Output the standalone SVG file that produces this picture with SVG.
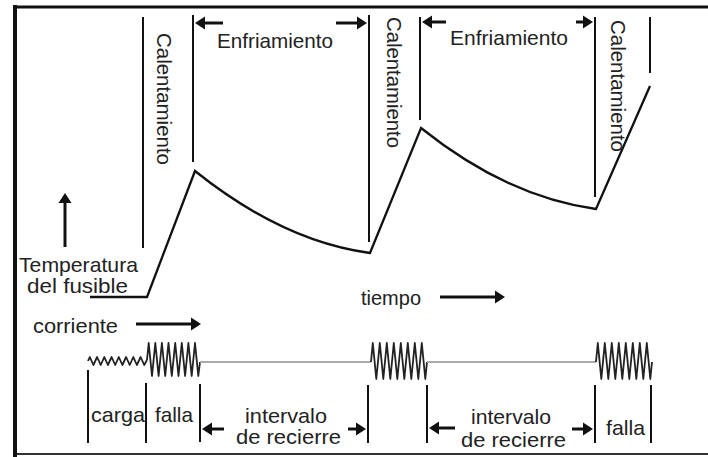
<svg xmlns="http://www.w3.org/2000/svg" width="708" height="457" viewBox="0 0 708 457">
<defs>
<marker id="ah" markerUnits="userSpaceOnUse" markerWidth="10" markerHeight="13" refX="0" refY="6.5" orient="auto" overflow="visible">
<path d="M0,0 L10,6.5 L0,13 z" fill="#111"/>
</marker>
<style>
.t{font-family:"Liberation Sans",Arial,sans-serif;font-size:21px;fill:#222}
.ln{stroke:#111;stroke-width:2;fill:none}
.ar{stroke:#111;stroke-width:3;fill:none;marker-end:url(#ah)}
.wv{stroke:#222;stroke-width:1.8;fill:none;stroke-linejoin:round}
.gr{stroke:#aaa;stroke-width:2;fill:none}
</style>
</defs>
<rect width="708" height="457" fill="#fff"/>
<g id="frame">
<line x1="13" y1="7" x2="708" y2="7" stroke="#111" stroke-width="3"/>
<line x1="13" y1="454" x2="708" y2="454" stroke="#333" stroke-width="2"/>
<line x1="15" y1="5" x2="15" y2="457" stroke="#111" stroke-width="4"/>
</g>
<g id="connectors">
<line class="ln" x1="143" y1="17" x2="143" y2="248"/>
<line class="ln" x1="193" y1="15" x2="193" y2="162"/>
<line class="ln" x1="369" y1="15" x2="369" y2="242" stroke-width="2.5"/>
<line class="ln" x1="420" y1="17" x2="420" y2="120" stroke="#555"/>
<line class="ln" x1="595" y1="17" x2="595" y2="197" stroke-width="2.5"/>
<line class="ln" x1="650" y1="17" x2="650" y2="73" stroke-width="3"/>
<line class="ar" x1="223" y1="23" x2="205" y2="23"/>
<line class="ar" x1="336" y1="23" x2="357" y2="23"/>
<line class="ar" x1="446" y1="22" x2="432" y2="22"/>
<line class="ar" x1="576" y1="22" x2="583" y2="22"/>
<line class="ar" x1="65" y1="247" x2="65" y2="203" stroke-width="2"/>
<line class="ar" x1="136" y1="324" x2="191" y2="324"/>
<line class="ar" x1="440" y1="297" x2="495" y2="297"/>
<line class="ar" x1="224" y1="429" x2="212" y2="429"/>
<line class="ar" x1="348" y1="429" x2="356" y2="429"/>
<line class="ar" x1="455" y1="428" x2="439" y2="428"/>
<line class="ar" x1="572" y1="429" x2="583" y2="429"/>
<line class="ln" x1="88" y1="370" x2="88" y2="443" stroke-width="3"/>
<line class="ln" x1="146" y1="383" x2="146" y2="443" stroke-width="3"/>
<line class="ln" x1="200" y1="384" x2="200" y2="442" stroke="#444"/>
<line class="ln" x1="368" y1="385" x2="368" y2="443"/>
<line class="ln" x1="427" y1="385" x2="427" y2="443"/>
<line class="ln" x1="595" y1="385" x2="595" y2="443"/>
<line class="ln" x1="651" y1="385" x2="651" y2="443"/>
</g>
<g id="temperature-curve">
<path d="M90,297 L147,297 L195,171 C250,215 310,245 370,253 L421,128 C476,172 536,201 596,209 L650,86" fill="none" stroke="#111" stroke-width="2.3" stroke-linejoin="miter"/>
</g>
<g id="current-wave">
<polyline class="wv" stroke-width="1.4" points="88,361 89.8,357 93.4,365 97.1,357 100.7,365 104.3,357 107.9,365 111.6,357 115.2,365 118.8,357 122.4,365 126.1,357 129.7,365 133.3,357 136.9,365 140.6,357 144.2,365 147,360"/>
<polyline class="wv" points="147,360 148.7,343 152,376 155.3,343 158.6,376 161.9,343 165.2,376 168.5,343 171.8,376 175.2,343 178.5,376 181.8,343 185.1,376 188.4,343 191.7,376 195,343 198.3,376 200,362"/>
<line class="gr" x1="200" y1="362" x2="371" y2="362"/>
<polyline class="wv" points="371,362 372.8,343 376.3,379 379.8,343 383.3,379 386.8,343 390.3,379 393.8,343 397.3,379 400.8,343 404.3,379 407.8,343 411.3,379 414.8,343 418.3,379 421.8,343 425.3,379 427,362"/>
<line class="gr" x1="427" y1="362" x2="596" y2="362"/>
<polyline class="wv" points="596,362 597.8,343 601.3,379 604.8,343 608.3,379 611.8,343 615.3,379 618.8,343 622.3,379 625.8,343 629.3,379 632.8,343 636.3,379 639.8,343 643.3,379 646.8,343 650.3,379 652,362"/>
</g>
<g id="labels">
<text class="t" x="217" y="48" textLength="116" lengthAdjust="spacingAndGlyphs">Enfriamiento</text>
<text class="t" x="450" y="45" textLength="118" lengthAdjust="spacingAndGlyphs">Enfriamiento</text>
<text class="t" transform="translate(157,33) rotate(90)" textLength="132" lengthAdjust="spacingAndGlyphs">Calentamiento</text>
<text class="t" transform="translate(387,17) rotate(90)" textLength="131" lengthAdjust="spacingAndGlyphs">Calentamiento</text>
<text class="t" transform="translate(611,20) rotate(90)" textLength="132" lengthAdjust="spacingAndGlyphs">Calentamiento</text>
<text class="t" x="19" y="272" textLength="119" lengthAdjust="spacingAndGlyphs">Temperatura</text>
<text class="t" x="27" y="293" textLength="101" lengthAdjust="spacingAndGlyphs">del fusible</text>
<text class="t" x="33" y="333" textLength="85" lengthAdjust="spacingAndGlyphs">corriente</text>
<text class="t" x="361" y="305" textLength="60" lengthAdjust="spacingAndGlyphs">tiempo</text>
<text class="t" x="91" y="422" textLength="54" lengthAdjust="spacingAndGlyphs">carga</text>
<text class="t" x="155" y="422" textLength="38" lengthAdjust="spacingAndGlyphs">falla</text>
<text class="t" x="245" y="423" textLength="82" lengthAdjust="spacingAndGlyphs">intervalo</text>
<text class="t" x="236" y="444" textLength="105" lengthAdjust="spacingAndGlyphs">de recierre</text>
<text class="t" x="471" y="424" textLength="80" lengthAdjust="spacingAndGlyphs">intervalo</text>
<text class="t" x="461" y="447" textLength="105" lengthAdjust="spacingAndGlyphs">de recierre</text>
<text class="t" x="606" y="435" textLength="39" lengthAdjust="spacingAndGlyphs">falla</text>
</g>
</svg>
